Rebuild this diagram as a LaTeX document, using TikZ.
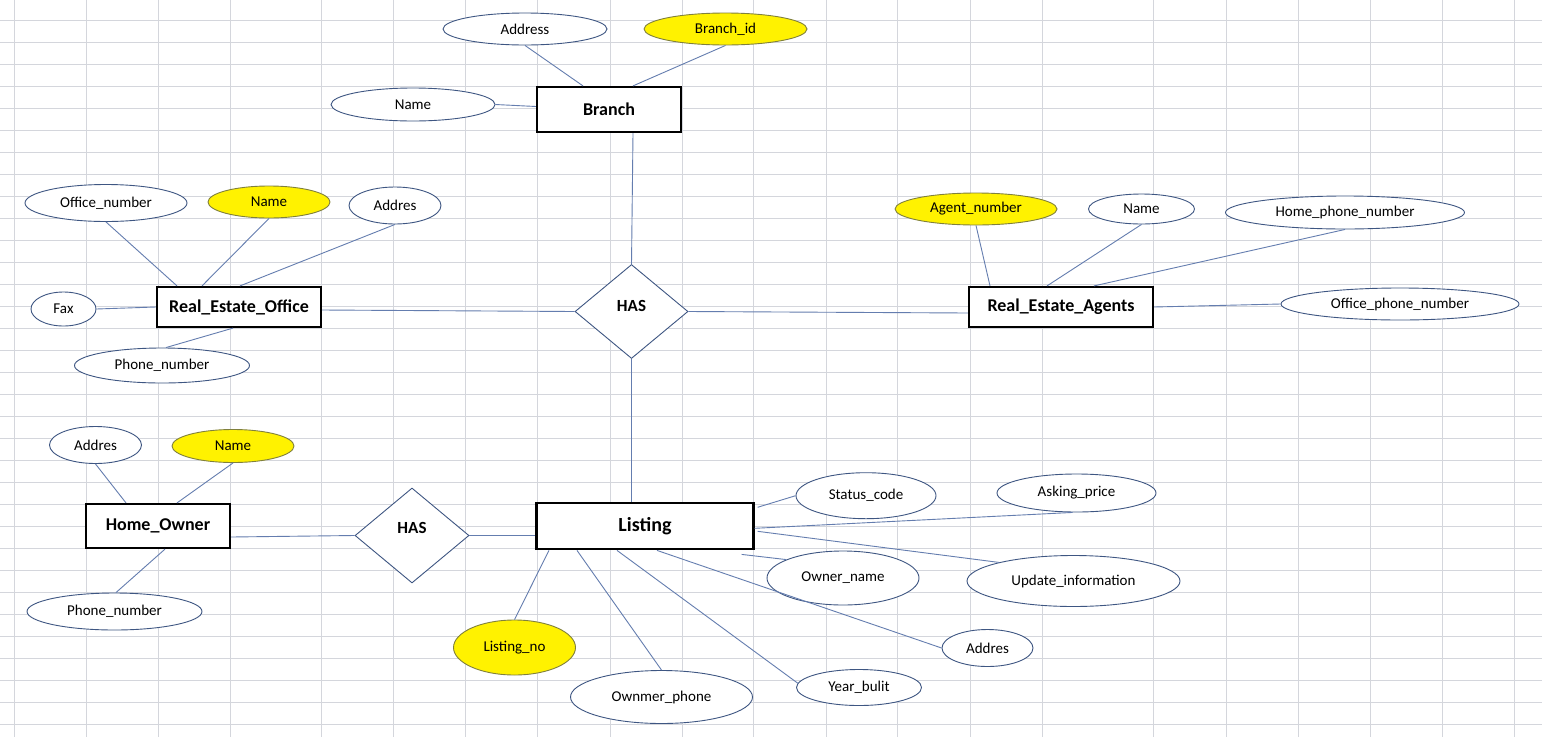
\documentclass[tikz,border=0pt]{standalone}
\usepackage{fontspec}
\setmainfont{Carlito}
\usepackage{tikz}
\usetikzlibrary{shapes.geometric}
\definecolor{gridgray}{RGB}{212,214,220}
\definecolor{attrblue}{RGB}{62,86,130}
\definecolor{connblue}{RGB}{100,125,175}
\definecolor{keyline}{RGB}{128,128,60}

\begin{document}
\begin{tikzpicture}[x=1pt, y=-1pt,
  entity/.style={draw=black, line width=2.2pt, fill=white, inner sep=0pt,
    font=\fontsize{18}{20}\selectfont\bfseries},
  attr/.style={ellipse, draw=attrblue, line width=0.9pt, fill=white,
    inner sep=0pt, font=\fontsize{15}{17}\selectfont},
  keyattr/.style={attr, draw=keyline, fill=yellow},
  rel/.style={diamond, draw=attrblue, line width=0.9pt, fill=white,
    inner sep=0pt, font=\fontsize{17}{19}\selectfont\bfseries},
  conn/.style={draw=connblue, line width=0.9pt}
]
% Sheet and grid
\fill[white] (0,0) rectangle (1542,737);
\useasboundingbox (0,0) rectangle (1542,737);
\foreach \gx in {14,86,158,230,321,393,465,537,610,682,753,826,897,970,
  1042,1153,1226,1298,1370,1442,1514}
  \draw[gridgray, line width=1pt] (\gx,0) -- (\gx,737);
\foreach \k in {0,...,32}
  \draw[gridgray, line width=1pt] (0,{20.5+22*\k}) -- (1542,{20.5+22*\k});
% Branch
\node[entity, minimum width=144pt, minimum height=45pt] (Branch) at (609,109.5) {Branch};
\node[attr, minimum width=164pt, minimum height=32pt] (BrAddr) at (525,29) {Address};
\node[keyattr, minimum width=163pt, minimum height=32pt] (BrId) at (725.5,29) {Branch\_id};
\node[attr, minimum width=164pt, minimum height=33pt] (BrName) at (413,104.5) {Name};
% Real estate office
\node[entity, minimum width=164pt, minimum height=40pt] (Office) at (239,307) {Real\_Estate\_Office};
\node[attr, minimum width=162pt, minimum height=37pt] (OfficeNo) at (106,203) {Office\_number};
\node[keyattr, minimum width=122pt, minimum height=32pt] (OfficeName) at (269,202) {Name};
\node[attr, minimum width=92pt, minimum height=37pt] (OfficeAddr) at (395,205.5) {Addres};
\node[attr, minimum width=65pt, minimum height=34pt] (Fax) at (63.5,309) {Fax};
\node[attr, minimum width=175pt, minimum height=35pt] (OfficePhone) at (162,365.5) {Phone\_number};
% Relationship to branch
\node[rel, minimum width=113pt, minimum height=94pt] (HasTop) at (631.5,311.5)
  {\smash{\raisebox{0.5pt}{HAS}}\hspace{7pt}};
% Agents
\node[entity, minimum width=184pt, minimum height=40pt] (Agents) at (1061,307) {Real\_Estate\_Agents};
\node[keyattr, minimum width=162pt, minimum height=32pt] (AgentNo) at (976,209) {Agent\_number};
\node[attr, minimum width=106pt, minimum height=30pt] (AgentName) at (1141.5,209) {Name};
\node[attr, minimum width=239pt, minimum height=33pt] (AgentHome) at (1345,212.5) {Home\_phone\_number};
\node[attr, minimum width=238pt, minimum height=32pt] (AgentOffice) at (1400,304) {Office\_phone\_number};
% Home owner
\node[entity, minimum width=144pt, minimum height=44pt] (Owner) at (158,526) {Home\_Owner};
\node[attr, minimum width=92pt, minimum height=37pt] (OwnerAddr) at (95.5,445) {Addres};
\node[keyattr, minimum width=122pt, minimum height=33pt] (OwnerName) at (233,446) {Name};
\node[attr, minimum width=175pt, minimum height=37pt] (OwnerPhone) at (114.5,611.5) {Phone\_number};
\node[rel, minimum width=114pt, minimum height=95pt] (HasLow) at (412,535.5)
  {\smash{\raisebox{1.8pt}{HAS}}\hspace{6.6pt}};
% Listing
\node[entity, minimum width=217pt, minimum height=46pt,
  font=\fontsize{20}{22}\selectfont\bfseries] (Listing) at (645,526.3) {Listing};
\node[attr, minimum width=140pt, minimum height=46pt] (Status) at (866,495.7) {Status\_code};
\node[attr, minimum width=159pt, minimum height=38pt] (Asking) at (1076.5,493) {Asking\_price};
\node[attr, minimum width=213pt, minimum height=51pt] (Update) at (1073.5,581) {Update\_information};
\node[attr, minimum width=152pt, minimum height=54pt] (LOwner) at (843,578) {Owner\_name};
\node[attr, minimum width=91pt, minimum height=37pt] (LAddr) at (987.5,648) {Addres};
\node[attr, minimum width=125pt, minimum height=36pt] (Year) at (859,687.5) {Year\_bulit};
\node[attr, minimum width=182pt, minimum height=53pt] (OwnPhone) at (661.5,697) {Ownmer\_phone};
\node[keyattr, minimum width=122pt, minimum height=55pt] (ListNo) at (514.5,647.5) {Listing\_no};
% Connectors
\draw[conn] (BrAddr.south) -- ([xshift=-26pt]Branch.north);
\draw[conn] (BrId.south) -- ([xshift=24pt]Branch.north);
\draw[conn] (BrName.east) -- ([yshift=3pt]Branch.west);
\draw[conn] ([xshift=24pt]Branch.south) -- (HasTop.north);
\draw[conn] (HasTop.south) -- (HasTop.south |- Listing.north);
\draw[conn] ([yshift=-3pt]Office.east) -- (HasTop.west);
\draw[conn] (HasTop.east) -- ([yshift=-6pt]Agents.west);
\draw[conn] (Fax.east) -- (Office.west);
\draw[conn] ([xshift=4pt]OfficePhone.north) -- ([xshift=-6pt]Office.south);
\draw[conn] (OfficeNo.south) -- ([xshift=-62pt]Office.north);
\draw[conn] (OfficeName.south) -- ([xshift=-37pt]Office.north);
\draw[conn] (OfficeAddr.south) -- ([xshift=1pt]Office.north);
\draw[conn] (AgentNo.south) -- ([xshift=-71pt]Agents.north);
\draw[conn] (AgentName.south) -- ([xshift=-14pt]Agents.north);
\draw[conn] (AgentHome.south) -- ([xshift=33pt]Agents.north);
\draw[conn] (Agents.east) -- (AgentOffice.west);
\draw[conn] (OwnerAddr.south) -- ([xshift=-32pt]Owner.north);
\draw[conn] (OwnerName.south) -- ([xshift=19pt]Owner.north);
\draw[conn] ([xshift=1.5pt]OwnerPhone.north) -- ([xshift=7pt]Owner.south);
\draw[conn] ([yshift=-11pt]Owner.east) -- (HasLow.west);
\draw[conn] (HasLow.east) -- (HasLow.east -| Listing.west);
\draw[conn] ([xshift=3pt,yshift=19pt]Listing.east) -- (Status.west);
\draw[conn] ([yshift=-2pt]Listing.east) -- ([xshift=-4pt]Asking.south);
\draw[conn] ([xshift=3pt,yshift=-5pt]Listing.east) -- (Update.166);
\draw[conn] ([xshift=-13pt,yshift=-4pt]Listing.south east) -- (LOwner.162);
\draw[conn] ([xshift=12pt]Listing.south) -- (LAddr.west);
\draw[conn] ([xshift=-28pt]Listing.south) -- (Year.176);
\draw[conn] ([xshift=-68pt]Listing.south) -- (OwnPhone.north);
\draw[conn] ([xshift=-96pt]Listing.south) -- (ListNo.north);
\end{tikzpicture}
\end{document}
